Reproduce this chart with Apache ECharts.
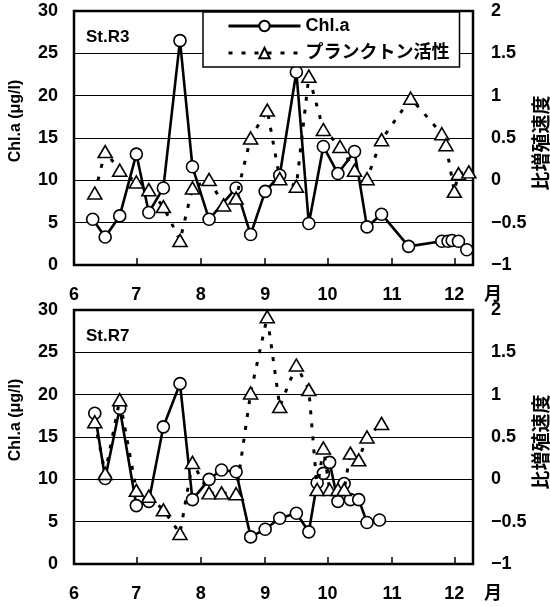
<!DOCTYPE html>
<html>
<head>
<meta charset="utf-8">
<script src="https://cdn.jsdelivr.net/npm/echarts@6.0.0/dist/echarts.min.js"></script>
<style>
  html, body { margin: 0; padding: 0; background: #fff; }
  #chart { width: 550px; height: 606px; }
</style>
</head>
<body>
<div id="chart"></div>
<script>
// Sampling year (non-leap) used to turn month/day strings into day offsets from June 1
const YEAR = 2001;

// Month boundaries on the time axis and their labels
const monthStarts = ['6/1', '7/1', '8/1', '9/1', '10/1', '11/1', '12/1'];
const monthLabels = ['6', '7', '8', '9', '10', '11', '12'];
const axisEnd = '12/10';

// St.R3 — chlorophyll a (μg/l)
const r3ChlDates = ['6/10', '6/16', '6/23', '7/1', '7/7', '7/14', '7/22', '7/28', '8/5', '8/18',
  '8/25', '9/1', '9/8', '9/16', '9/22', '9/29', '10/6', '10/14', '10/20', '10/27',
  '11/9', '11/25', '11/28', '11/30', '12/3', '12/7'];
const r3ChlValues = [5.4, 3.3, 5.8, 13.1, 6.2, 9.1, 26.5, 11.6, 5.4, 9.1,
  3.6, 8.7, 10.6, 22.8, 4.9, 14.0, 10.8, 13.4, 4.5, 6.0,
  2.2, 2.8, 2.8, 2.9, 2.8, 1.8];

// St.R3 — plankton activity (specific growth rate)
const r3ActDates = ['6/11', '6/16', '6/23', '7/1', '7/7', '7/14', '7/22', '7/28', '8/5', '8/12',
  '8/18', '8/25', '9/2', '9/8', '9/16', '9/22', '9/29', '10/7', '10/14', '10/20',
  '10/27', '11/10', '11/25', '11/27', '12/1', '12/3', '12/8'];
const r3ActValues = [-0.15, 0.34, 0.12, -0.02, -0.11, -0.31, -0.71, -0.09, 0.01, -0.29,
  -0.21, 0.50, 0.83, 0.02, -0.07, 1.23, 0.60, 0.40, 0.12, 0.02,
  0.48, 0.97, 0.55, 0.42, -0.13, 0.08, 0.10];

// St.R7 — chlorophyll a (μg/l)
const r7ChlDates = ['6/11', '6/16', '6/23', '7/1', '7/7', '7/14', '7/22', '7/28', '8/5', '8/11',
  '8/18', '8/25', '9/1', '9/8', '9/16', '9/22', '9/26', '9/29', '10/2', '10/6',
  '10/9', '10/12', '10/16', '10/20', '10/26'];
const r7ChlValues = [17.8, 10.1, 18.4, 6.9, 7.4, 16.2, 21.3, 7.6, 10.0, 11.1,
  10.9, 3.2, 4.1, 5.4, 6.0, 3.8, 9.6, 10.7, 12.0, 7.4,
  9.5, 7.6, 7.6, 4.9, 5.2];

// St.R7 — plankton activity (specific growth rate)
const r7ActDates = ['6/11', '6/16', '6/23', '7/1', '7/7', '7/14', '7/22', '7/28', '8/5', '8/11',
  '8/18', '8/25', '9/2', '9/8', '9/16', '9/22', '9/26', '9/29', '10/2', '10/6',
  '10/9', '10/12', '10/16', '10/20', '10/27'];
const r7ActValues = [0.68, 0.07, 0.94, -0.13, -0.20, -0.36, -0.64, 0.20, -0.16, -0.16,
  -0.17, 1.02, 1.92, 0.86, 1.35, 1.06, -0.12, 0.37, -0.12, -0.12,
  -0.12, 0.31, 0.23, 0.50, 0.66];

const stations = ['St.R3', 'St.R7'];
const chlName = 'Chl.a';
const actName = 'プランクトン活性';

function dayOf(md) {
  const [m, d] = md.split('/').map(Number);
  return (Date.UTC(YEAR, m - 1, d) - Date.UTC(YEAR, 5, 1)) / 86400000;
}
function pairs(dates, values) {
  return dates.map((d, i) => [dayOf(d), values[i]]);
}

const tickDays = monthStarts.map(dayOf);
const maxDay = dayOf(axisEnd);
const FONT = '"Liberation Sans", Arial, "Noto Sans CJK JP", sans-serif';
const CJK = '"Noto Sans CJK JP", sans-serif';

const grids = [
  { left: 74, top: 11, width: 399, height: 254 },
  { left: 74, top: 310, width: 399, height: 254 }
];

const xAxes = grids.map((g, i) => ({
  type: 'value', gridIndex: i, min: 0, max: maxDay,
  axisLine: { show: false },
  axisTick: {
    show: true, inside: true, length: 7,
    customValues: tickDays.slice(1),
    lineStyle: { color: '#000', width: 1.5 }
  },
  axisLabel: {
    customValues: tickDays,
    formatter: v => monthLabels[tickDays.indexOf(v)] || '',
    margin: 21, fontSize: 18, fontWeight: 'bold', color: '#000', fontFamily: FONT
  },
  splitLine: { show: false }
}));

const yAxes = [];
grids.forEach((g, i) => {
  yAxes.push({
    type: 'value', gridIndex: i, min: 0, max: 30, interval: 5,
    axisLine: { show: false }, axisTick: { show: false },
    axisLabel: { margin: 16, fontSize: 18, fontWeight: 'bold', color: '#000', fontFamily: FONT },
    splitLine: { show: true, lineStyle: { color: '#000', width: 1 } }
  });
  yAxes.push({
    type: 'value', gridIndex: i, position: 'right', min: -1, max: 2, interval: 0.5,
    axisLine: { show: false }, axisTick: { show: false },
    axisLabel: {
      margin: 18, fontSize: 18, fontWeight: 'bold', color: '#000', fontFamily: FONT,
      formatter: v => String(v).replace('-', '−')
    },
    splitLine: { show: false }
  });
});

const chlStyle = {
  type: 'line', symbol: 'circle', symbolSize: 12, z: 3,
  itemStyle: { color: '#fff', borderColor: '#000', borderWidth: 1.6 },
  lineStyle: { color: '#000', width: 2.6 },
  emphasis: { disabled: true }
};
const actStyle = {
  type: 'line', symbol: 'triangle', symbolSize: [14, 12], z: 4,
  itemStyle: { color: '#fff', borderColor: '#000', borderWidth: 1.6 },
  lineStyle: { color: '#000', width: 3, type: [4, 9] },
  emphasis: { disabled: true }
};

const series = [
  Object.assign({ name: chlName, xAxisIndex: 0, yAxisIndex: 0, data: pairs(r3ChlDates, r3ChlValues) }, chlStyle),
  Object.assign({ name: actName, xAxisIndex: 0, yAxisIndex: 1, data: pairs(r3ActDates, r3ActValues) }, actStyle),
  Object.assign({ name: chlName, xAxisIndex: 1, yAxisIndex: 2, data: pairs(r7ChlDates, r7ChlValues) }, chlStyle),
  Object.assign({ name: actName, xAxisIndex: 1, yAxisIndex: 3, data: pairs(r7ActDates, r7ActValues) }, actStyle)
];

function vText(text, x, y, size, family) {
  return {
    type: 'text', x: x, y: y, rotation: Math.PI / 2, z: 10,
    style: { text: text, font: 'bold ' + size + 'px ' + family, fill: '#000', align: 'center', verticalAlign: 'middle' }
  };
}
function hText(text, x, y, size, align) {
  return {
    type: 'text', x: x, y: y, z: 10,
    style: { text: text, font: 'bold ' + size + 'px ' + FONT, fill: '#000', align: align, verticalAlign: 'middle' }
  };
}

const graphics = [];
grids.forEach((g, i) => {
  graphics.push(hText(stations[i], 86, g.top + 26, 17, 'left'));
  graphics.push(hText('月', 493, g.top + g.height + 30, 18, 'center'));
  graphics.push(vText('Chl.a (μg/l)', 16, g.top + 110, 16, FONT));
  graphics.push(vText('比増殖速度', 541, g.top + 132, 19, CJK));
});

const chart = echarts.init(document.getElementById('chart'), null, { renderer: 'canvas' });
chart.setOption({
  animation: false,
  backgroundColor: '#fff',
  grid: grids.map(g => Object.assign({ show: true, borderColor: '#000', borderWidth: 2.5, backgroundColor: 'transparent' }, g)),
  xAxis: xAxes,
  yAxis: yAxes,
  legend: {
    data: [chlName, actName],
    orient: 'vertical', left: 203, top: 12,
    padding: [5, 10, 5, 24], itemGap: 9,
    itemWidth: 72, itemHeight: 13,
    borderColor: '#000', borderWidth: 1.5, borderRadius: 0,
    backgroundColor: '#fff',
    selectedMode: false,
    lineStyle: { width: 3 },
    textStyle: { fontSize: 18, fontWeight: 'bold', color: '#000', fontFamily: FONT }
  },
  series: series,
  graphic: graphics
});
</script>
</body>
</html>
